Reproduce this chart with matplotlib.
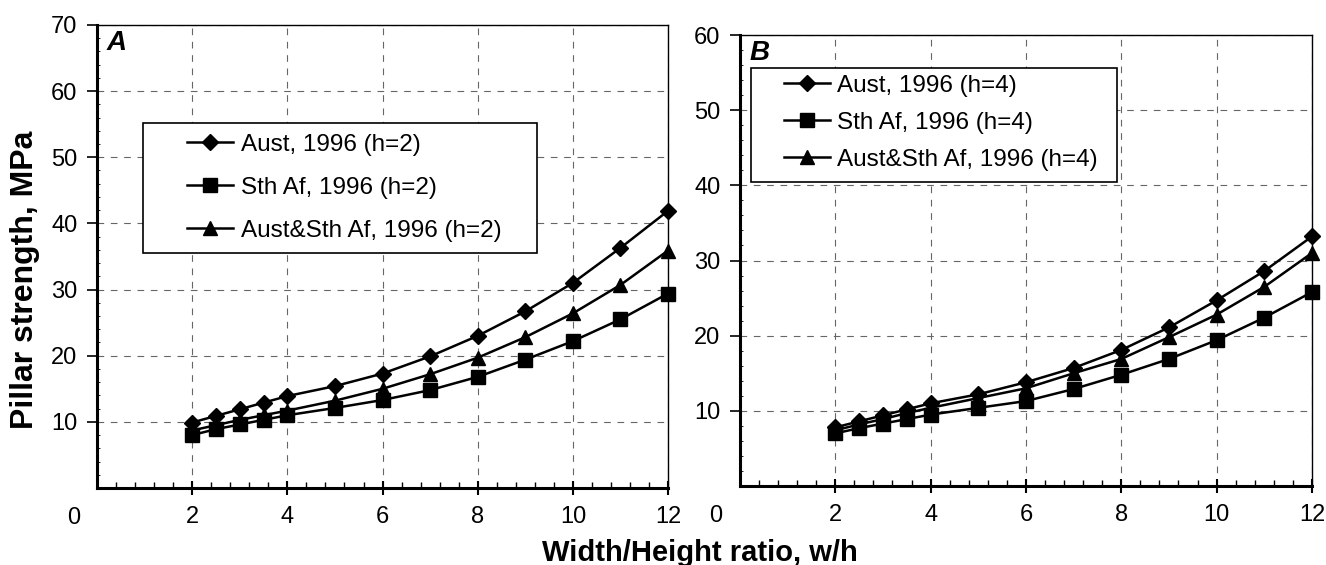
import matplotlib.pyplot as plt
from matplotlib.patches import Rectangle
from matplotlib.ticker import MultipleLocator

plt.rcParams['font.family'] = ['Liberation Sans', 'DejaVu Sans']

# w/h ratios used for both panels
wh = [2, 2.5, 3, 3.5, 4, 5, 6, 7, 8, 9, 10, 11, 12]

# Panel A, h=2
aust_h2 = [9.9, 10.9, 11.9, 12.9, 13.9, 15.4, 17.3, 19.9, 23.0, 26.7, 31.0, 36.3, 41.9]
sthaf_h2 = [8.0, 8.9, 9.6, 10.3, 11.0, 12.1, 13.3, 14.8, 16.8, 19.4, 22.2, 25.5, 29.4]
both_h2 = [8.7, 9.5, 10.3, 11.0, 11.7, 13.2, 15.0, 17.2, 19.7, 22.8, 26.4, 30.7, 35.9]

# Panel B, h=4
aust_h4 = [7.8, 8.6, 9.4, 10.2, 11.0, 12.2, 13.8, 15.7, 18.1, 21.1, 24.7, 28.6, 33.2]
sthaf_h4 = [7.0, 7.7, 8.3, 8.9, 9.5, 10.4, 11.3, 12.9, 14.8, 16.9, 19.4, 22.4, 25.8]
both_h4 = [7.4, 8.2, 8.9, 9.7, 10.4, 11.7, 13.0, 15.0, 16.9, 19.8, 22.8, 26.5, 31.0]

labels_h2 = ['Aust, 1996 (h=2)', 'Sth Af, 1996 (h=2)', 'Aust&Sth Af, 1996 (h=2)']
labels_h4 = ['Aust, 1996 (h=4)', 'Sth Af, 1996 (h=4)', 'Aust&Sth Af, 1996 (h=4)']

fig = plt.figure(figsize=(13.26, 5.65), dpi=100)
axA = fig.add_axes([0.0732, 0.1363, 0.4306, 0.8195])
axB = fig.add_axes([0.558, 0.1398, 0.4314, 0.7982])


def style_panel(ax, ymax, letter):
    ax.set_xlim(0, 12)
    ax.set_ylim(0, ymax)
    ax.set_xticks(range(2, 13, 2))
    ax.set_yticks(range(10, ymax + 1, 10))
    ax.xaxis.set_minor_locator(MultipleLocator(0.4))
    ax.yaxis.set_minor_locator(MultipleLocator(2))
    ax.tick_params(axis='x', which='major', direction='inout', length=10, width=1.5,
                   labelsize=17, pad=8)
    ax.tick_params(axis='x', which='minor', direction='in', length=4, width=1)
    ax.tick_params(axis='y', which='major', direction='out', length=7, width=1.2,
                   labelsize=17, pad=7)
    ax.tick_params(axis='y', which='minor', direction='in', length=2, width=0.6)
    for s in ['left', 'bottom']:
        ax.spines[s].set_linewidth(2.2)
    for s in ['top', 'right']:
        ax.spines[s].set_linewidth(1.0)
    ax.grid(True, which='major', linestyle=(0, (6, 6)), color='#666666', linewidth=0.8)
    ax.set_axisbelow(True)
    ax.text(0.016, 0.99, letter, transform=ax.transAxes, ha='left', va='top',
            fontsize=20, fontweight='bold', fontstyle='italic')
    ax.annotate('0', xy=(-0.5, 0), xycoords='data', xytext=(0, -14),
                textcoords='offset points', ha='center', va='top', fontsize=17,
                annotation_clip=False)


def draw_series(ax, ys, labels):
    markers = ['D', 's', '^']
    sizes = [8.5, 10, 10.5]
    handles = []
    for y, lab, m, ms in zip(ys, labels, markers, sizes):
        h, = ax.plot(wh, y, color='black', linewidth=1.8, marker=m, markersize=ms,
                     markerfacecolor='black', markeredgecolor='black', label=lab,
                     clip_on=False, zorder=5)
        handles.append(h)
    return handles


style_panel(axA, 70, 'A')
style_panel(axB, 60, 'B')

hA = draw_series(axA, [aust_h2, sthaf_h2, both_h2], labels_h2)
hB = draw_series(axB, [aust_h4, sthaf_h4, both_h4], labels_h4)

# legend boxes
axA.add_patch(Rectangle((0.0806, 0.5076), 0.69, 0.2804, transform=axA.transAxes,
                        facecolor='white', edgecolor='black', linewidth=1.2, zorder=3))
axB.add_patch(Rectangle((0.0192, 0.674), 0.6398, 0.253, transform=axB.transAxes,
                        facecolor='white', edgecolor='black', linewidth=1.2, zorder=3))

legA = axA.legend(handles=hA, loc='upper left', bbox_to_anchor=(0.1576, 0.765),
                  frameon=False, fontsize=17.5, borderpad=0, borderaxespad=0,
                  handlelength=1.9, handletextpad=0.3, labelspacing=0.86)
legA.set_zorder(6)
legB = axB.legend(handles=hB, loc='upper left', bbox_to_anchor=(0.077, 0.912),
                  frameon=False, fontsize=17.5, borderpad=0, borderaxespad=0,
                  handlelength=1.9, handletextpad=0.3, labelspacing=0.62)
legB.set_zorder(6)

fig.text(0.019, 0.504, 'Pillar strength, MPa', rotation=90, ha='center', va='center',
         fontsize=23, fontweight='bold')
fig.text(0.528, 0.022, 'Width/Height ratio, w/h', ha='center', va='center',
         fontsize=21, fontweight='bold')

fig.savefig('out.png', dpi=100)
